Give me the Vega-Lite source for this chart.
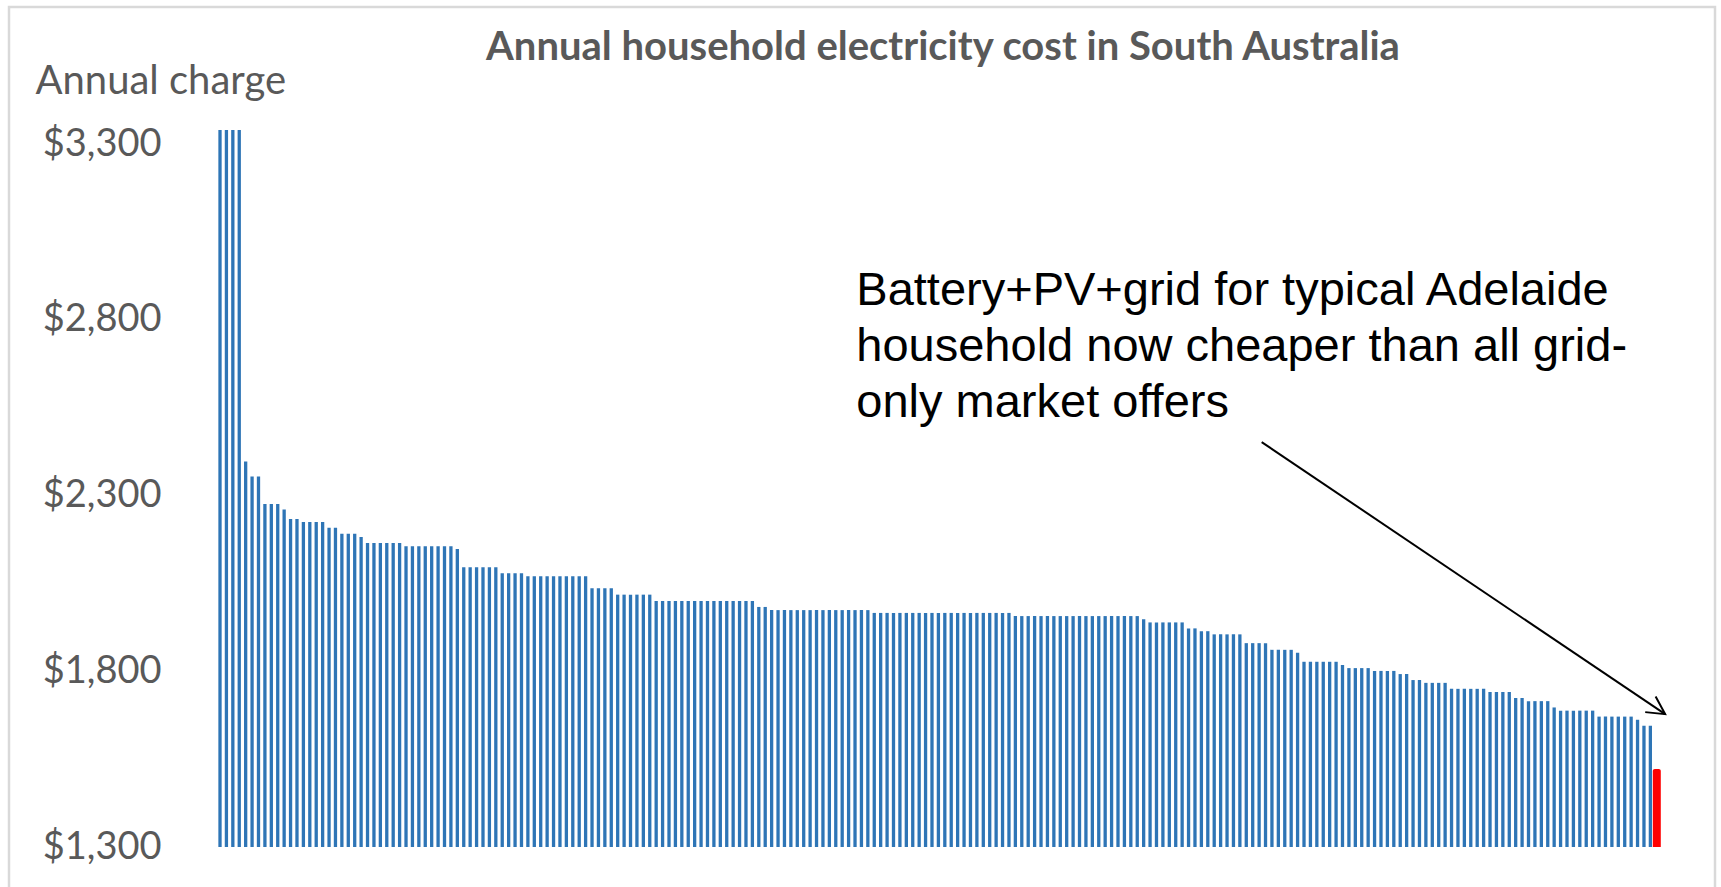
{
  "$schema": "https://vega.github.io/schema/vega-lite/v6.json",
  "autosize": {"type": "none"},
  "padding": {"left": 9, "top": 7, "right": 6, "bottom": -4},
  "width": 1706,
  "height": 884,
  "background": "white",
  "title": {
    "text": "Annual household electricity cost in South Australia",
    "font": "Lato",
    "fontSize": 40,
    "fontWeight": "bold",
    "color": "#595959",
    "anchor": "middle",
    "frame": "group",
    "baseline": "alphabetic",
    "offset": -93,
    "dx": 81
  },
  "config": {
    "view": {"stroke": "#d9d9d9", "strokeWidth": 2.5},
    "axis": {"grid": false}
  },
  "data": {
    "values": [
      {"rank": 1, "cost": 3340, "offer": "Grid-only"},
      {"rank": 2, "cost": 3340, "offer": "Grid-only"},
      {"rank": 3, "cost": 3340, "offer": "Grid-only"},
      {"rank": 4, "cost": 3340, "offer": "Grid-only"},
      {"rank": 5, "cost": 2397, "offer": "Grid-only"},
      {"rank": 6, "cost": 2354, "offer": "Grid-only"},
      {"rank": 7, "cost": 2354, "offer": "Grid-only"},
      {"rank": 8, "cost": 2276, "offer": "Grid-only"},
      {"rank": 9, "cost": 2276, "offer": "Grid-only"},
      {"rank": 10, "cost": 2276, "offer": "Grid-only"},
      {"rank": 11, "cost": 2260, "offer": "Grid-only"},
      {"rank": 12, "cost": 2233, "offer": "Grid-only"},
      {"rank": 13, "cost": 2233, "offer": "Grid-only"},
      {"rank": 14, "cost": 2225, "offer": "Grid-only"},
      {"rank": 15, "cost": 2225, "offer": "Grid-only"},
      {"rank": 16, "cost": 2225, "offer": "Grid-only"},
      {"rank": 17, "cost": 2225, "offer": "Grid-only"},
      {"rank": 18, "cost": 2208, "offer": "Grid-only"},
      {"rank": 19, "cost": 2208, "offer": "Grid-only"},
      {"rank": 20, "cost": 2191, "offer": "Grid-only"},
      {"rank": 21, "cost": 2191, "offer": "Grid-only"},
      {"rank": 22, "cost": 2191, "offer": "Grid-only"},
      {"rank": 23, "cost": 2182, "offer": "Grid-only"},
      {"rank": 24, "cost": 2165, "offer": "Grid-only"},
      {"rank": 25, "cost": 2165, "offer": "Grid-only"},
      {"rank": 26, "cost": 2165, "offer": "Grid-only"},
      {"rank": 27, "cost": 2165, "offer": "Grid-only"},
      {"rank": 28, "cost": 2165, "offer": "Grid-only"},
      {"rank": 29, "cost": 2165, "offer": "Grid-only"},
      {"rank": 30, "cost": 2156, "offer": "Grid-only"},
      {"rank": 31, "cost": 2156, "offer": "Grid-only"},
      {"rank": 32, "cost": 2156, "offer": "Grid-only"},
      {"rank": 33, "cost": 2156, "offer": "Grid-only"},
      {"rank": 34, "cost": 2156, "offer": "Grid-only"},
      {"rank": 35, "cost": 2156, "offer": "Grid-only"},
      {"rank": 36, "cost": 2156, "offer": "Grid-only"},
      {"rank": 37, "cost": 2156, "offer": "Grid-only"},
      {"rank": 38, "cost": 2148, "offer": "Grid-only"},
      {"rank": 39, "cost": 2096, "offer": "Grid-only"},
      {"rank": 40, "cost": 2096, "offer": "Grid-only"},
      {"rank": 41, "cost": 2096, "offer": "Grid-only"},
      {"rank": 42, "cost": 2096, "offer": "Grid-only"},
      {"rank": 43, "cost": 2096, "offer": "Grid-only"},
      {"rank": 44, "cost": 2096, "offer": "Grid-only"},
      {"rank": 45, "cost": 2079, "offer": "Grid-only"},
      {"rank": 46, "cost": 2079, "offer": "Grid-only"},
      {"rank": 47, "cost": 2079, "offer": "Grid-only"},
      {"rank": 48, "cost": 2079, "offer": "Grid-only"},
      {"rank": 49, "cost": 2070, "offer": "Grid-only"},
      {"rank": 50, "cost": 2070, "offer": "Grid-only"},
      {"rank": 51, "cost": 2070, "offer": "Grid-only"},
      {"rank": 52, "cost": 2070, "offer": "Grid-only"},
      {"rank": 53, "cost": 2070, "offer": "Grid-only"},
      {"rank": 54, "cost": 2070, "offer": "Grid-only"},
      {"rank": 55, "cost": 2070, "offer": "Grid-only"},
      {"rank": 56, "cost": 2070, "offer": "Grid-only"},
      {"rank": 57, "cost": 2070, "offer": "Grid-only"},
      {"rank": 58, "cost": 2070, "offer": "Grid-only"},
      {"rank": 59, "cost": 2036, "offer": "Grid-only"},
      {"rank": 60, "cost": 2036, "offer": "Grid-only"},
      {"rank": 61, "cost": 2036, "offer": "Grid-only"},
      {"rank": 62, "cost": 2036, "offer": "Grid-only"},
      {"rank": 63, "cost": 2018, "offer": "Grid-only"},
      {"rank": 64, "cost": 2018, "offer": "Grid-only"},
      {"rank": 65, "cost": 2018, "offer": "Grid-only"},
      {"rank": 66, "cost": 2018, "offer": "Grid-only"},
      {"rank": 67, "cost": 2018, "offer": "Grid-only"},
      {"rank": 68, "cost": 2018, "offer": "Grid-only"},
      {"rank": 69, "cost": 2000, "offer": "Grid-only"},
      {"rank": 70, "cost": 2000, "offer": "Grid-only"},
      {"rank": 71, "cost": 2000, "offer": "Grid-only"},
      {"rank": 72, "cost": 2000, "offer": "Grid-only"},
      {"rank": 73, "cost": 2000, "offer": "Grid-only"},
      {"rank": 74, "cost": 2000, "offer": "Grid-only"},
      {"rank": 75, "cost": 2000, "offer": "Grid-only"},
      {"rank": 76, "cost": 2000, "offer": "Grid-only"},
      {"rank": 77, "cost": 2000, "offer": "Grid-only"},
      {"rank": 78, "cost": 2000, "offer": "Grid-only"},
      {"rank": 79, "cost": 2000, "offer": "Grid-only"},
      {"rank": 80, "cost": 2000, "offer": "Grid-only"},
      {"rank": 81, "cost": 2000, "offer": "Grid-only"},
      {"rank": 82, "cost": 2000, "offer": "Grid-only"},
      {"rank": 83, "cost": 2000, "offer": "Grid-only"},
      {"rank": 84, "cost": 2000, "offer": "Grid-only"},
      {"rank": 85, "cost": 1983, "offer": "Grid-only"},
      {"rank": 86, "cost": 1983, "offer": "Grid-only"},
      {"rank": 87, "cost": 1974, "offer": "Grid-only"},
      {"rank": 88, "cost": 1974, "offer": "Grid-only"},
      {"rank": 89, "cost": 1974, "offer": "Grid-only"},
      {"rank": 90, "cost": 1974, "offer": "Grid-only"},
      {"rank": 91, "cost": 1974, "offer": "Grid-only"},
      {"rank": 92, "cost": 1974, "offer": "Grid-only"},
      {"rank": 93, "cost": 1974, "offer": "Grid-only"},
      {"rank": 94, "cost": 1974, "offer": "Grid-only"},
      {"rank": 95, "cost": 1974, "offer": "Grid-only"},
      {"rank": 96, "cost": 1974, "offer": "Grid-only"},
      {"rank": 97, "cost": 1974, "offer": "Grid-only"},
      {"rank": 98, "cost": 1974, "offer": "Grid-only"},
      {"rank": 99, "cost": 1974, "offer": "Grid-only"},
      {"rank": 100, "cost": 1974, "offer": "Grid-only"},
      {"rank": 101, "cost": 1974, "offer": "Grid-only"},
      {"rank": 102, "cost": 1974, "offer": "Grid-only"},
      {"rank": 103, "cost": 1966, "offer": "Grid-only"},
      {"rank": 104, "cost": 1966, "offer": "Grid-only"},
      {"rank": 105, "cost": 1966, "offer": "Grid-only"},
      {"rank": 106, "cost": 1966, "offer": "Grid-only"},
      {"rank": 107, "cost": 1966, "offer": "Grid-only"},
      {"rank": 108, "cost": 1966, "offer": "Grid-only"},
      {"rank": 109, "cost": 1966, "offer": "Grid-only"},
      {"rank": 110, "cost": 1966, "offer": "Grid-only"},
      {"rank": 111, "cost": 1966, "offer": "Grid-only"},
      {"rank": 112, "cost": 1966, "offer": "Grid-only"},
      {"rank": 113, "cost": 1966, "offer": "Grid-only"},
      {"rank": 114, "cost": 1966, "offer": "Grid-only"},
      {"rank": 115, "cost": 1966, "offer": "Grid-only"},
      {"rank": 116, "cost": 1966, "offer": "Grid-only"},
      {"rank": 117, "cost": 1966, "offer": "Grid-only"},
      {"rank": 118, "cost": 1966, "offer": "Grid-only"},
      {"rank": 119, "cost": 1966, "offer": "Grid-only"},
      {"rank": 120, "cost": 1966, "offer": "Grid-only"},
      {"rank": 121, "cost": 1966, "offer": "Grid-only"},
      {"rank": 122, "cost": 1966, "offer": "Grid-only"},
      {"rank": 123, "cost": 1966, "offer": "Grid-only"},
      {"rank": 124, "cost": 1966, "offer": "Grid-only"},
      {"rank": 125, "cost": 1957, "offer": "Grid-only"},
      {"rank": 126, "cost": 1957, "offer": "Grid-only"},
      {"rank": 127, "cost": 1957, "offer": "Grid-only"},
      {"rank": 128, "cost": 1957, "offer": "Grid-only"},
      {"rank": 129, "cost": 1957, "offer": "Grid-only"},
      {"rank": 130, "cost": 1957, "offer": "Grid-only"},
      {"rank": 131, "cost": 1957, "offer": "Grid-only"},
      {"rank": 132, "cost": 1957, "offer": "Grid-only"},
      {"rank": 133, "cost": 1957, "offer": "Grid-only"},
      {"rank": 134, "cost": 1957, "offer": "Grid-only"},
      {"rank": 135, "cost": 1957, "offer": "Grid-only"},
      {"rank": 136, "cost": 1957, "offer": "Grid-only"},
      {"rank": 137, "cost": 1957, "offer": "Grid-only"},
      {"rank": 138, "cost": 1957, "offer": "Grid-only"},
      {"rank": 139, "cost": 1957, "offer": "Grid-only"},
      {"rank": 140, "cost": 1957, "offer": "Grid-only"},
      {"rank": 141, "cost": 1957, "offer": "Grid-only"},
      {"rank": 142, "cost": 1957, "offer": "Grid-only"},
      {"rank": 143, "cost": 1957, "offer": "Grid-only"},
      {"rank": 144, "cost": 1957, "offer": "Grid-only"},
      {"rank": 145, "cost": 1948, "offer": "Grid-only"},
      {"rank": 146, "cost": 1939, "offer": "Grid-only"},
      {"rank": 147, "cost": 1939, "offer": "Grid-only"},
      {"rank": 148, "cost": 1939, "offer": "Grid-only"},
      {"rank": 149, "cost": 1939, "offer": "Grid-only"},
      {"rank": 150, "cost": 1939, "offer": "Grid-only"},
      {"rank": 151, "cost": 1939, "offer": "Grid-only"},
      {"rank": 152, "cost": 1922, "offer": "Grid-only"},
      {"rank": 153, "cost": 1922, "offer": "Grid-only"},
      {"rank": 154, "cost": 1914, "offer": "Grid-only"},
      {"rank": 155, "cost": 1914, "offer": "Grid-only"},
      {"rank": 156, "cost": 1905, "offer": "Grid-only"},
      {"rank": 157, "cost": 1905, "offer": "Grid-only"},
      {"rank": 158, "cost": 1905, "offer": "Grid-only"},
      {"rank": 159, "cost": 1905, "offer": "Grid-only"},
      {"rank": 160, "cost": 1905, "offer": "Grid-only"},
      {"rank": 161, "cost": 1880, "offer": "Grid-only"},
      {"rank": 162, "cost": 1880, "offer": "Grid-only"},
      {"rank": 163, "cost": 1880, "offer": "Grid-only"},
      {"rank": 164, "cost": 1880, "offer": "Grid-only"},
      {"rank": 165, "cost": 1861, "offer": "Grid-only"},
      {"rank": 166, "cost": 1861, "offer": "Grid-only"},
      {"rank": 167, "cost": 1861, "offer": "Grid-only"},
      {"rank": 168, "cost": 1861, "offer": "Grid-only"},
      {"rank": 169, "cost": 1853, "offer": "Grid-only"},
      {"rank": 170, "cost": 1827, "offer": "Grid-only"},
      {"rank": 171, "cost": 1827, "offer": "Grid-only"},
      {"rank": 172, "cost": 1827, "offer": "Grid-only"},
      {"rank": 173, "cost": 1827, "offer": "Grid-only"},
      {"rank": 174, "cost": 1827, "offer": "Grid-only"},
      {"rank": 175, "cost": 1827, "offer": "Grid-only"},
      {"rank": 176, "cost": 1818, "offer": "Grid-only"},
      {"rank": 177, "cost": 1809, "offer": "Grid-only"},
      {"rank": 178, "cost": 1809, "offer": "Grid-only"},
      {"rank": 179, "cost": 1809, "offer": "Grid-only"},
      {"rank": 180, "cost": 1809, "offer": "Grid-only"},
      {"rank": 181, "cost": 1801, "offer": "Grid-only"},
      {"rank": 182, "cost": 1801, "offer": "Grid-only"},
      {"rank": 183, "cost": 1801, "offer": "Grid-only"},
      {"rank": 184, "cost": 1801, "offer": "Grid-only"},
      {"rank": 185, "cost": 1792, "offer": "Grid-only"},
      {"rank": 186, "cost": 1792, "offer": "Grid-only"},
      {"rank": 187, "cost": 1775, "offer": "Grid-only"},
      {"rank": 188, "cost": 1775, "offer": "Grid-only"},
      {"rank": 189, "cost": 1767, "offer": "Grid-only"},
      {"rank": 190, "cost": 1767, "offer": "Grid-only"},
      {"rank": 191, "cost": 1767, "offer": "Grid-only"},
      {"rank": 192, "cost": 1767, "offer": "Grid-only"},
      {"rank": 193, "cost": 1750, "offer": "Grid-only"},
      {"rank": 194, "cost": 1750, "offer": "Grid-only"},
      {"rank": 195, "cost": 1750, "offer": "Grid-only"},
      {"rank": 196, "cost": 1750, "offer": "Grid-only"},
      {"rank": 197, "cost": 1750, "offer": "Grid-only"},
      {"rank": 198, "cost": 1750, "offer": "Grid-only"},
      {"rank": 199, "cost": 1741, "offer": "Grid-only"},
      {"rank": 200, "cost": 1741, "offer": "Grid-only"},
      {"rank": 201, "cost": 1741, "offer": "Grid-only"},
      {"rank": 202, "cost": 1741, "offer": "Grid-only"},
      {"rank": 203, "cost": 1724, "offer": "Grid-only"},
      {"rank": 204, "cost": 1724, "offer": "Grid-only"},
      {"rank": 205, "cost": 1715, "offer": "Grid-only"},
      {"rank": 206, "cost": 1715, "offer": "Grid-only"},
      {"rank": 207, "cost": 1715, "offer": "Grid-only"},
      {"rank": 208, "cost": 1715, "offer": "Grid-only"},
      {"rank": 209, "cost": 1697, "offer": "Grid-only"},
      {"rank": 210, "cost": 1688, "offer": "Grid-only"},
      {"rank": 211, "cost": 1688, "offer": "Grid-only"},
      {"rank": 212, "cost": 1688, "offer": "Grid-only"},
      {"rank": 213, "cost": 1688, "offer": "Grid-only"},
      {"rank": 214, "cost": 1688, "offer": "Grid-only"},
      {"rank": 215, "cost": 1688, "offer": "Grid-only"},
      {"rank": 216, "cost": 1671, "offer": "Grid-only"},
      {"rank": 217, "cost": 1671, "offer": "Grid-only"},
      {"rank": 218, "cost": 1671, "offer": "Grid-only"},
      {"rank": 219, "cost": 1671, "offer": "Grid-only"},
      {"rank": 220, "cost": 1671, "offer": "Grid-only"},
      {"rank": 221, "cost": 1671, "offer": "Grid-only"},
      {"rank": 222, "cost": 1662, "offer": "Grid-only"},
      {"rank": 223, "cost": 1645, "offer": "Grid-only"},
      {"rank": 224, "cost": 1645, "offer": "Grid-only"},
      {"rank": 225, "cost": 1522, "offer": "Battery+PV+grid"}
    ]
  },
  "layer": [
    {
      "transform": [{"filter": "datum.offer === 'Grid-only'"}],
      "mark": {"type": "bar", "width": 3.3, "color": "#2e75b6"},
      "encoding": {
        "x": {
          "field": "rank",
          "type": "quantitative",
          "scale": {"domain": [0.5, 225.5], "range": [202.8, 1656], "nice": false, "zero": false},
          "axis": null
        },
        "y": {
          "field": "cost",
          "type": "quantitative",
          "scale": {"domain": [1300, 3340], "range": [840, 123], "nice": false, "zero": false},
          "axis": {
            "values": [1300, 1800, 2300, 2800, 3300],
            "format": "$,.0f",
            "orient": "left",
            "offset": -152,
            "domain": false,
            "ticks": false,
            "tickSize": 0,
            "labelPadding": 0,
            "labelAlign": "right",
            "labelBaseline": "middle",
            "labelFont": "Lato",
            "labelFontSize": 38,
            "labelColor": "#595959",
            "title": "Annual charge",
            "titleAngle": 0,
            "titleAlign": "left",
            "titleBaseline": "alphabetic",
            "titleX": -126,
            "titleY": 86,
            "titleFont": "Lato",
            "titleFontSize": 40,
            "titleFontWeight": "normal",
            "titleColor": "#595959"
          }
        },
        "y2": {"datum": 1300}
      }
    },
    {
      "transform": [{"filter": "datum.offer === 'Battery+PV+grid'"}],
      "mark": {"type": "bar", "width": 8, "color": "#ff0000", "cornerRadiusTopLeft": 2, "cornerRadiusTopRight": 2},
      "encoding": {
        "x": {"field": "rank", "type": "quantitative"},
        "y": {"field": "cost", "type": "quantitative"},
        "y2": {"datum": 1300}
      }
    },
    {
      "data": {"values": [{"note": ["Battery+PV+grid for typical Adelaide", "household now cheaper than all grid-", "only market offers"]}]},
      "mark": {"type": "text", "align": "left", "baseline": "alphabetic", "font": "Liberation Sans", "fontSize": 47, "lineHeight": 56, "color": "#000000"},
      "encoding": {
        "x": {"datum": 100.2, "type": "quantitative"},
        "y": {"datum": 2842, "type": "quantitative"},
        "text": {"field": "note"}
      }
    },
    {
      "data": {"values": [{"from": "note", "to": "battery"}]},
      "mark": {"type": "rule", "color": "#000000", "strokeWidth": 2},
      "encoding": {
        "x": {"datum": 163.4, "type": "quantitative"},
        "y": {"datum": 2452, "type": "quantitative"},
        "x2": {"datum": 226.3},
        "y2": {"datum": 1678}
      }
    },
    {
      "data": {"values": [{"to": "battery"}]},
      "mark": {"type": "point", "shape": "M-1,-0.53L0,0L-1,0.53", "filled": false, "stroke": "#000000", "strokeWidth": 2, "size": 1253, "angle": 33.7, "opacity": 1},
      "encoding": {
        "x": {"datum": 226.3, "type": "quantitative"},
        "y": {"datum": 1678, "type": "quantitative"}
      }
    }
  ]
}
